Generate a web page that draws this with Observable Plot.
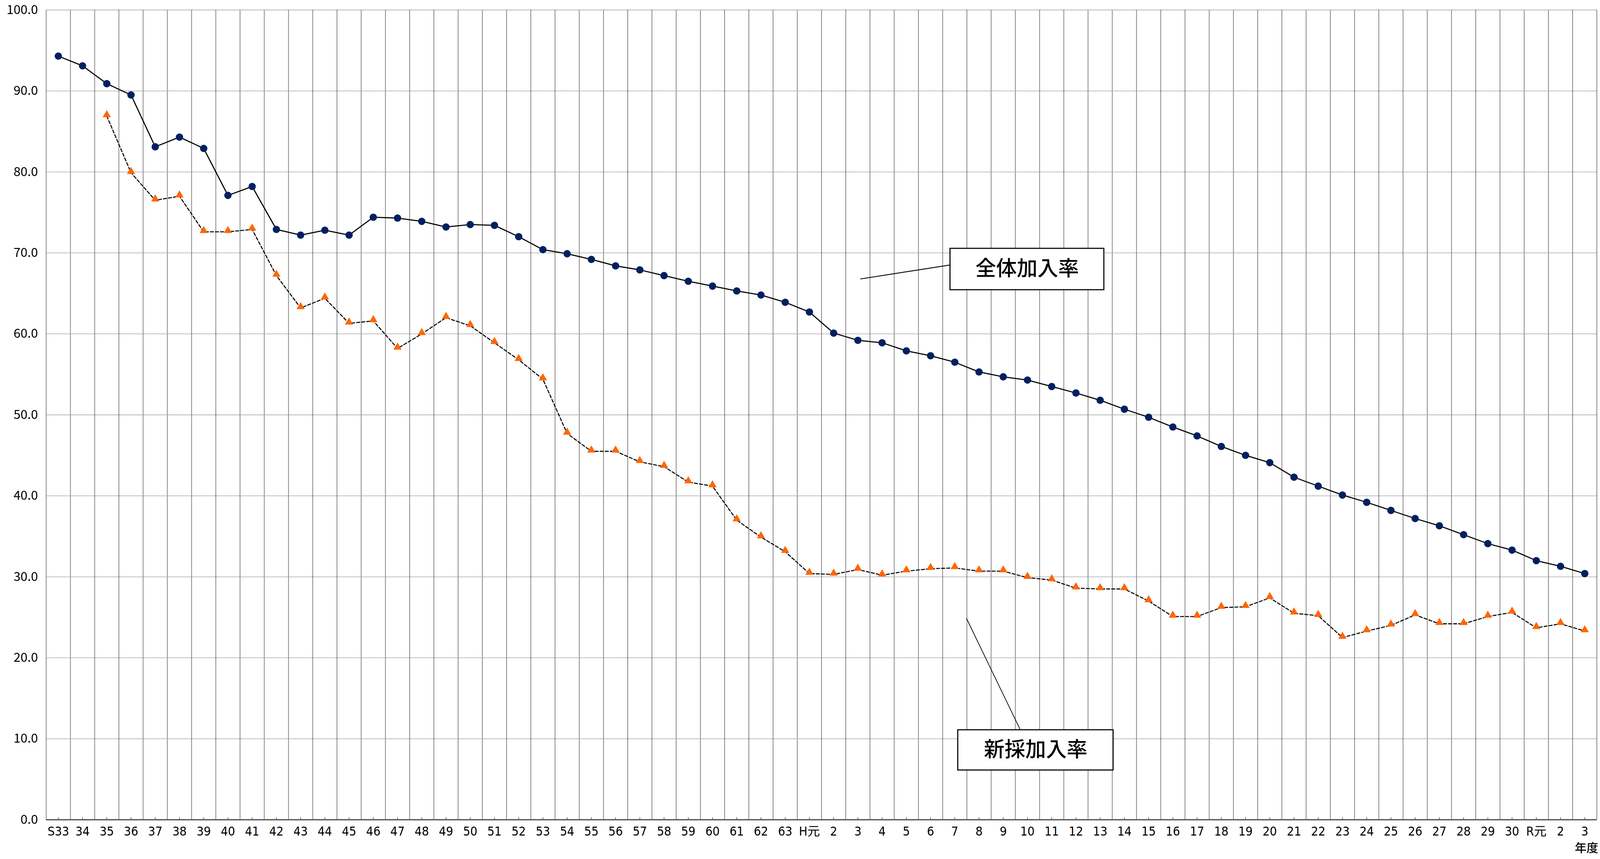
<!DOCTYPE html>
<html>
<head>
<meta charset="utf-8">
<script src="https://cdn.jsdelivr.net/npm/d3@7"></script>
<script src="https://cdn.jsdelivr.net/npm/@observablehq/plot@0.6"></script>
<style>
  html, body { margin: 0; padding: 0; background: #ffffff; overflow: hidden; }
  #chart svg { display: block; }
</style>
</head>
<body>
<div id="chart"></div>
<script>
// ---- data ----
const xLabels = [
  "S33","34","35","36","37","38","39","40","41","42","43","44","45","46","47","48",
  "49","50","51","52","53","54","55","56","57","58","59","60","61","62","63",
  "H元","2","3","4","5","6","7","8","9","10","11","12","13","14","15","16","17",
  "18","19","20","21","22","23","24","25","26","27","28","29","30",
  "R元","2","3"
];
const overallRate = [
  94.3, 93.1, 90.9, 89.5, 83.1, 84.3, 82.9, 77.1, 78.2, 72.9, 72.2, 72.8, 72.2, 74.4, 74.3, 73.9,
  73.2, 73.5, 73.4, 72.0, 70.4, 69.9, 69.2, 68.4, 67.9, 67.2, 66.5, 65.9, 65.3, 64.8, 63.9,
  62.7, 60.1, 59.2, 58.9, 57.9, 57.3, 56.5, 55.3, 54.7, 54.3, 53.5, 52.7, 51.8, 50.7, 49.7, 48.5, 47.4,
  46.1, 45.0, 44.1, 42.3, 41.2, 40.1, 39.2, 38.2, 37.2, 36.3, 35.2, 34.1, 33.3,
  32.0, 31.3, 30.4
];
const newHireRate = [
  null, null, 86.9, 79.9, 76.5, 77.0, 72.6, 72.6, 72.9, 67.2, 63.2, 64.4, 61.3, 61.6, 58.2, 60.0,
  62.0, 61.0, 58.9, 56.8, 54.4, 47.7, 45.5, 45.5, 44.2, 43.6, 41.7, 41.2, 37.0, 34.9, 33.1,
  30.4, 30.3, 30.9, 30.2, 30.7, 31.0, 31.1, 30.7, 30.7, 29.9, 29.6, 28.6, 28.5, 28.5, 27.0, 25.1, 25.1,
  26.2, 26.3, 27.4, 25.5, 25.2, 22.5, 23.3, 24.0, 25.3, 24.2, 24.2, 25.1, 25.6,
  23.7, 24.2, 23.3
];
const yTicks = [0, 10, 20, 30, 40, 50, 60, 70, 80, 90, 100];
const seriesNames = ["全体加入率", "新採加入率"];
const axisTitle = "年度";

// ---- tables built from the arrays ----
const idx = d3.range(xLabels.length);
const overall = idx.map(i => ({i, v: overallRate[i]}));
const newHire = idx.map(i => ({i, v: newHireRate[i]})).filter(d => d.v != null);
const bandEdges = d3.range(-0.5, xLabels.length, 1);

// ---- callout layout (annotation boxes, in chart units) ----
const callouts = [
  {text: seriesNames[0], x1: 36.81, x2: 43.16, y1: 65.43, y2: 70.54, lx1: 33.1, ly1: 66.78, lx2: 36.78, ly2: 68.5, lw: 2.2},
  {text: seriesNames[1], x1: 37.13, x2: 43.54, y1: 6.12, y2: 11.09, lx1: 37.48, ly1: 24.88, lx2: 39.69, ly2: 11.19, lw: 1.8}
];

// the page fills whatever viewport it is given, keeping the reference proportions
const W = Math.min(window.innerWidth || 4798, 4798);
const H = 2200;
const k = W / 4798;

const cjk = "'Noto Sans CJK JP', 'Noto Sans', sans-serif";
const narrow = "'Liberation Sans Narrow', 'DejaVu Sans Condensed', 'Noto Sans CJK JP', sans-serif";

const chart = Plot.plot({
  width: W,
  height: H,
  marginLeft: 138 * k,
  marginRight: 10 * k,
  marginTop: 25,
  marginBottom: 101,
  x: {type: "linear", domain: [-0.5, xLabels.length - 0.5]},
  y: {domain: [0, 100]},
  style: {background: "#ffffff", color: "#000000", fontFamily: cjk},
  marks: [
    // horizontal dotted grid
    Plot.ruleY(yTicks.filter(d => d > 0), {stroke: "#6e6e6e", strokeWidth: 1.8, strokeDasharray: "1.8,1.8"}),
    // vertical band boundaries
    Plot.ruleX(bandEdges, {x: d => d, stroke: "#7a7a7a", strokeWidth: 1.8}),
    // bottom axis line
    Plot.ruleY([0], {stroke: "#4d4d4d", strokeWidth: 2.8}),
    // inward ticks at category centres
    Plot.ruleX(idx, {x: d => d, y1: 0, y2: 0, insetBottom: 6, stroke: "#4d4d4d", strokeWidth: 1.5}),
    // series lines
    Plot.line(overall, {x: "i", y: "v", stroke: "#000000", strokeWidth: 2.8}),
    Plot.line(newHire, {x: "i", y: "v", stroke: "#000000", strokeWidth: 2.6, strokeDasharray: "8,5"}),
    // markers
    Plot.dot(overall, {x: "i", y: "v", r: 9.4, fill: "#002060", stroke: "none"}),
    Plot.dot(newHire, {x: "i", y: "v", r: 7.8, symbol: "triangle", fill: "#ff6600", stroke: "none", dy: -3}),
    // callouts
    Plot.link(callouts, {x1: "lx1", y1: "ly1", x2: "lx2", y2: "ly2", stroke: "#000000", strokeWidth: d => d.lw}),
    Plot.rect(callouts, {x1: "x1", x2: "x2", y1: "y1", y2: "y2", fill: "#ffffff", stroke: "#000000", strokeWidth: 2.8}),
    Plot.text(callouts, {x: d => (d.x1 + d.x2) / 2, y: d => (d.y1 + d.y2) / 2, text: "text", fontSize: 53, fontWeight: 500, fontFamily: cjk, fill: "#000000"}),
    // axes
    Plot.axisY({ticks: yTicks, tickSize: 0, tickPadding: 25 * k, tickFormat: d => d.toFixed(1), fontSize: 32, fontFamily: cjk, label: null}),
    Plot.axisX({ticks: idx, tickSize: 0, tickPadding: 18, tickFormat: i => xLabels[i], fontSize: 32, fontFamily: narrow, label: null}),
    Plot.text([axisTitle], {text: d => d, frameAnchor: "bottom-right", textAnchor: "end", lineAnchor: "middle", dx: 4 * k, dy: 73, fontSize: 30, fontWeight: 500, fontFamily: cjk, fill: "#000000"})
  ]
});

document.getElementById("chart").appendChild(chart);
</script>
</body>
</html>
